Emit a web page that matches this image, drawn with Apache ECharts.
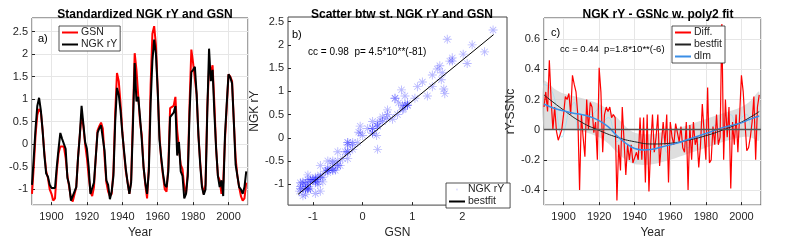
<!DOCTYPE html>
<html><head><meta charset="utf-8">
<script src="https://cdn.jsdelivr.net/npm/echarts@6/dist/echarts.min.js"></script>
<style>html,body{margin:0;padding:0;background:#fff}#c{width:793px;height:244px}</style>
</head><body><div id="c"></div>
<script>
const years = []; for (let y = 1889; y <= 2010; y++) years.push(y);
// Standardized GSN (red), 1889-2010
const gsn = [-1.1,-0.5,0.2,0.65,0.78,0.72,0.3,-0.2,-0.6,-0.75,-1.0,
 -1.1,-1.25,-1.2,-0.6,-0.2,-0.05,-0.08,-0.05,-0.3,-0.7,
 -0.95,-1.2,-1.27,-1.25,-0.95,-0.3,0.2,0.65,0.4,0.0,
 -0.3,-0.7,-1.05,-1.15,-0.95,-0.3,0.3,0.4,0.48,0.35,
 -0.3,-0.85,-1.05,-1.15,-1.1,-0.6,0.7,1.58,1.4,0.9,
 0.3,-0.2,-0.6,-0.85,-1.1,-0.8,0.6,2.02,1.65,1.63,
 0.5,0.2,-0.5,-0.9,-1.2,-0.5,1.3,2.45,2.62,2.2,
 1.2,0.2,-0.35,-0.7,-1.0,-1.05,-0.5,0.8,0.82,0.85,
 1.05,0.3,0.28,-0.45,-0.55,-0.95,-1.1,-0.6,0.9,2.1,
 1.8,1.8,1.1,0.2,-0.4,-0.9,-1.1,-0.9,0.8,1.7,
 1.6,1.75,0.9,-0.1,-0.7,-0.8,-1.1,-0.85,0.1,0.85,
 1.55,1.5,1.4,0.5,-0.3,-0.7,-0.95,-1.15,-1.25,-1.2,-0.85];
// Standardized NGK rY (black), 1889-2010
const ngk = [-0.9,-0.3,0.35,0.85,1.03,0.75,0.3,-0.25,-0.65,-0.72,-0.9,
 -0.97,-0.97,-0.97,-0.5,-0.1,0.25,0.12,0.1,-0.1,-0.75,
 -0.9,-1.25,-1.15,-1.05,-0.95,-0.3,0.2,0.85,0.45,0.05,
 -0.1,-0.5,-1.1,-1.1,-0.85,-0.3,0.25,0.35,0.42,0.38,
 -0.15,-0.8,-0.9,-1.22,-1.05,-0.7,0.5,1.25,1.1,0.75,
 0.25,-0.15,-0.55,-0.85,-1.1,-0.85,0.4,1.8,0.95,1.05,
 0.6,0.1,-0.5,-0.85,-1.1,-0.6,0.9,1.85,2.32,2.0,
 1.2,0.1,-0.3,-0.65,-0.9,-0.95,-0.6,0.6,0.62,0.7,
 0.85,-0.25,0.05,-0.6,-0.7,-1.2,-1.1,-0.7,0.7,1.6,
 1.65,1.72,1.1,0.2,-0.45,-0.95,-1.12,-1.0,0.7,2.12,
 1.4,1.65,0.7,-0.1,-0.7,-0.95,-0.8,-1.15,0.2,0.9,
 1.55,1.48,1.35,0.5,-0.45,-0.7,-0.95,-1.0,-1.1,-0.95,-0.6];
// Diff. (red, panel c), 1889-2010
const diff = [0.15,0.25,0.12,0.46,0.2,0.0,0.15,-0.01,-0.07,-0.06,0.0,
 0.1,0.22,0.2,0.24,0.1,0.36,0.3,0.25,0.1,-0.4,
 0.1,-0.05,-0.18,0.2,0.0,0.18,0.15,-0.02,0.05,-0.2,
 0.41,0.25,-0.15,0.1,0.15,0.12,0.15,0.08,0.1,0.08,
 -0.47,-0.1,-0.27,0.15,0.16,-0.3,-0.1,-0.2,-0.1,-0.22,
 -0.23,-0.15,-0.2,0.08,-0.2,0.08,-0.35,0.1,-0.41,-0.1,
 0.1,-0.15,-0.05,0.1,-0.24,-0.24,0.05,-0.1,0.1,-0.35,
 0.05,-0.05,-0.1,0.04,0.03,-0.08,0.02,-0.12,-0.15,0.05,
 -0.4,0.03,-0.2,0.05,-0.1,-0.05,-0.25,-0.1,0.17,0.18,
 -0.2,0.28,-0.22,-0.2,0.02,-0.1,0.1,-0.1,-0.05,0.7,
 -0.2,0.2,-0.05,0.15,-0.39,0.05,-0.1,0.1,-0.15,0.1,
 0.36,0.25,0.05,-0.14,-0.12,-0.05,0.05,0.22,-0.2,0.15,0.23];
// Panel b best fit end points
const fitBX = [-1.3, 2.63];
const fitBY = [-1.22, 2.22];
// Panel c quadratic best fit (read)
const fitCYears = [1889,1900,1910,1920,1930,1940,1950,1960,1970,1980,1990,2000,2010];
const fitCVals  = [0.23,0.13,0.05,-0.005,-0.05,-0.08,-0.095,-0.09,-0.07,-0.04,0.0,0.05,0.12];
// dlm level (blue)
const dlmYears = [1889,1895,1900,1905,1910,1915,1920,1925,1930,1935,1940,1945,1950,1955,1960,1965,1970,1975,1980,1985,1990,1995,2000,2005,2010];
const dlmVals  = [0.17,0.14,0.125,0.11,0.1,0.085,0.06,0.02,-0.04,-0.09,-0.125,-0.135,-0.13,-0.115,-0.1,-0.085,-0.065,-0.045,-0.025,-0.005,0.015,0.03,0.045,0.07,0.09];
// dlm uncertainty band
const bandYears = [1889,1895,1900,1910,1920,1925,1930,1935,1940,1950,1960,1970,1980,1990,2000,2005,2010];
const bandUpper = [0.32,0.27,0.24,0.21,0.17,0.13,0.08,0.02,-0.02,-0.03,0.0,0.03,0.07,0.11,0.15,0.19,0.25];
const bandLower = [0.01,0.0,0.0,-0.01,-0.05,-0.09,-0.15,-0.2,-0.23,-0.23,-0.2,-0.16,-0.12,-0.08,-0.05,-0.05,-0.07];
// thin light-blue dlm sample
const lbYears = [1889,1892,1895,1897,1899,1901,1903,1906,1908,1910,1912,1915,1918,1920,1922,1925,1928,1930,1933,1935,1938,1940,1943,1946,1948,1950,1953,1956,1958,1961,1964,1967,1970,1973,1976,1979,1982,1985,1988,1991,1994,1997,2000,2003,2006,2008,2010];
const lbVals  = [0.3,0.28,0.2,0.05,-0.05,0.02,0.12,0.18,0.0,0.05,0.1,0.1,0.12,0.15,0.05,0.08,0.0,-0.08,-0.05,-0.12,-0.2,-0.22,-0.15,-0.2,-0.1,-0.15,-0.12,-0.05,-0.15,-0.1,-0.08,-0.1,-0.12,-0.05,-0.1,0.0,-0.05,0.03,0.0,0.05,0.1,0.03,0.08,0.1,0.0,0.05,0.1];

const FONT = 'Liberation Sans, Arial, Helvetica, sans-serif';
const TXT = '#262626';
const STAR = 'path://M-1,-10L1,-10L1,10L-1,10Z M-10,-1L10,-1L10,1L-10,1Z M-6.36,-7.64L7.64,6.36L6.36,7.64L-7.64,-6.36Z M6.36,-7.64L7.64,-6.36L-6.36,7.64L-7.64,6.36Z';

function xax(gi, min, max, split, name, grid) {
  return {type:'value', gridIndex:gi, min:min, max:max, splitNumber:split,
    name:name, nameLocation:'middle', nameGap:18,
    nameTextStyle:{fontSize:12, color:TXT, fontFamily:FONT},
    axisLine:{show:false, onZero:false},
    axisTick:{inside:true, length:3, lineStyle:{color:TXT}},
    axisLabel:{fontSize:11, color:TXT, margin:6, fontFamily:FONT, showMinLabel:false, showMaxLabel:false,
      formatter: v => String(v)},
    splitLine:{show:grid, lineStyle:{color:'#e6e6e6', width:1}}};
}
function yax(gi, min, max, split, name, gap, grid) {
  return {type:'value', gridIndex:gi, min:min, max:max, splitNumber:split,
    name:name, nameLocation:'middle', nameGap:gap,
    nameTextStyle:{fontSize:12, color:TXT, fontFamily:FONT},
    axisLine:{show:false, onZero:false},
    axisTick:{inside:true, length:3, lineStyle:{color:TXT}},
    axisLabel:{fontSize:11, color:TXT, margin:4, fontFamily:FONT, showMinLabel:false, showMaxLabel:false},
    splitLine:{show:grid, lineStyle:{color:'#e6e6e6', width:1}}};
}
const pair = (xs, ys) => xs.map((x, i) => [x, ys[i]]);

const chart = echarts.init(document.getElementById('c'), null, {renderer:'canvas'});
const legendCommon = {orient:'vertical', padding:[1,3], itemGap:1, itemWidth:16, itemHeight:2,
  backgroundColor:'#fff', borderColor:TXT, borderWidth:0.8, borderRadius:0,
  textStyle:{fontSize:10.5, color:TXT, fontFamily:FONT, padding:[0,0,0,-2]}};
const titleStyle = {fontSize:12, fontWeight:'bold', color:'#000', fontFamily:FONT};

chart.setOption({
  animation:false,
  textStyle:{fontFamily:FONT},
  title:[
    {text:'Standardized NGK rY and GSN', left:140, top:4, textAlign:'center', textStyle:titleStyle},
    {text:'Scatter btw st. NGK rY and GSN', left:397, top:4, textAlign:'center', textStyle:titleStyle},
    {text:'NGK rY - GSNc w. poly2 fit', left:653, top:4, textAlign:'center', textStyle:titleStyle}
  ],
  grid:[
    {left:32, top:18, width:216, height:193, show:true, borderColor:'#444', borderWidth:1},
    {left:288, top:17, width:219, height:194, show:true, borderColor:'#444', borderWidth:1},
    {left:544, top:18, width:217, height:193, show:true, borderColor:'#444', borderWidth:1}
  ],
  xAxis:[xax(0,1889,2011,6,'Year',true), xax(1,-1.5,2.9,4,'GSN',false), xax(2,1889,2011,6,'Year',true)],
  yAxis:[yax(0,-1.35,2.8,8,'',20,true), yax(1,-1.45,2.6,8,'NGK rY',25,false), yax(2,-0.5,0.74,6,'rY-SSNc',22,true)],
  legend:[
    Object.assign({}, legendCommon, {left:59, top:26, data:[{name:'GSN', icon:'rect'},{name:'NGK rY', icon:'rect'}]}),
    Object.assign({}, legendCommon, {left:446, top:183, data:[{name:'NGK rY ', icon:STAR, itemHeight:8, itemWidth:16, itemStyle:{color:'rgba(40,40,255,0.75)'}},{name:'bestfit ', icon:'rect'}]}),
    Object.assign({}, legendCommon, {left:672, top:26, data:[{name:'Diff.', icon:'rect'},{name:'bestfit', icon:'rect'},{name:'dlm', icon:'rect'}]})
  ],
  graphic:[
    {type:'text', z:100, left:38, top:33, style:{text:'a)', fill:'#000', font:'11px '+FONT}},
    {type:'text', z:100, left:292, top:29, style:{text:'b)', fill:'#000', font:'11px '+FONT}},
    {type:'text', z:100, left:308, top:47, style:{text:'cc = 0.98  p= 4.5*10**(-81)', fill:'#000', font:'10px '+FONT}},
    {type:'text', z:100, left:551, top:27, style:{text:'c)', fill:'#000', font:'11px '+FONT}},
    {type:'text', z:100, left:560, top:44, style:{text:'cc = 0.44  p=1.8*10**(-6)', fill:'#000', font:'9.5px '+FONT}}
  ],
  series:[
    {name:'GSN', type:'line', xAxisIndex:0, yAxisIndex:0, data:pair(years,gsn), showSymbol:false, lineStyle:{color:'#ff0000', width:2}, itemStyle:{color:'#ff0000'}},
    {name:'NGK rY', type:'line', xAxisIndex:0, yAxisIndex:0, data:pair(years,ngk), showSymbol:false, lineStyle:{color:'#000', width:2}, itemStyle:{color:'#000'}},
    {name:'NGK rY ', type:'scatter', xAxisIndex:1, yAxisIndex:1, data:pair(gsn,ngk), symbol:STAR, symbolSize:9, itemStyle:{color:'rgba(0,0,255,0.35)'}},
    {name:'bestfit ', type:'line', xAxisIndex:1, yAxisIndex:1, data:pair(fitBX,fitBY), showSymbol:false, lineStyle:{color:'#000', width:1}, itemStyle:{color:'#000'}},
    {name:'band', type:'custom', xAxisIndex:2, yAxisIndex:2, silent:true, z:1,
      data:[[bandYears[0], bandUpper[0]]],
      renderItem: function(params, api) {
        const pts = [];
        for (let i = 0; i < bandYears.length; i++) pts.push(api.coord([bandYears[i], bandUpper[i]]));
        for (let i = bandYears.length - 1; i >= 0; i--) pts.push(api.coord([bandYears[i], bandLower[i]]));
        return {type:'polygon', shape:{points:pts, smooth:0.3}, style:{fill:'rgba(200,200,200,0.6)'}};
      }},
    {name:'lb', type:'line', xAxisIndex:2, yAxisIndex:2, data:pair(lbYears,lbVals), showSymbol:false, smooth:true, lineStyle:{color:'#9fdcf2', width:0.8}},
    {name:'Diff.', type:'line', xAxisIndex:2, yAxisIndex:2, data:pair(years,diff), showSymbol:false, lineStyle:{color:'#ff0000', width:1.2}, itemStyle:{color:'#ff0000'},
      markLine:{silent:true, symbol:'none', label:{show:false}, lineStyle:{color:'#555', width:1.3, type:'solid'}, data:[{yAxis:0}]}},
    {name:'bestfit', type:'line', xAxisIndex:2, yAxisIndex:2, data:pair(fitCYears,fitCVals), showSymbol:false, smooth:true, lineStyle:{color:'#222', width:1}, itemStyle:{color:'#222'}},
    {name:'dlm', type:'line', xAxisIndex:2, yAxisIndex:2, data:pair(dlmYears,dlmVals), showSymbol:false, smooth:true, lineStyle:{color:'#3a8ee6', width:1.5}, itemStyle:{color:'#3a8ee6'}}
  ]
});
</script></body></html>
